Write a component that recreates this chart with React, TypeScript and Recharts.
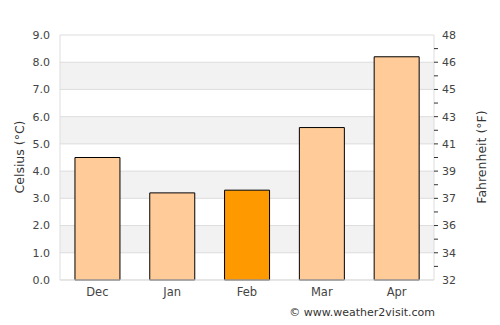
import React from 'react';
import { ComposedChart, Bar, Line, XAxis, YAxis, CartesianGrid, Cell } from 'recharts';

const months = ['Dec', 'Jan', 'Feb', 'Mar', 'Apr'];
const celsius = [4.5, 3.2, 3.3, 5.6, 8.2];
const highlighted = ['Feb'];
const leftTicks = [0, 1, 2, 3, 4, 5, 6, 7, 8, 9];
const rightTicks = [0, 0.5, 1, 1.5, 2, 2.5, 3, 3.5, 4, 4.5, 5, 5.5, 6, 6.5, 7, 7.5, 8, 8.5, 9];

const data = months.map((m, i) => ({ month: m, c: celsius[i] }));

const FONT = '"DejaVu Sans", sans-serif';
const TXT = '#444';

const RightTick = (props: any) => {
  const { x, y, payload } = props;
  const v = payload.value;
  const isInt = Math.abs(v - Math.round(v)) < 1e-6;
  const isEnd = v <= 0 || v >= 9;
  const f = Math.round((v * 9) / 5 + 32);
  return (
    <g>
      {!isEnd && <line x1={x - 8} x2={x - 4} y1={y} y2={y} stroke="#333" strokeWidth={1} />}
      {isInt && (
        <text x={x} y={y} dy="0.355em" textAnchor="start" fill={TXT} fontSize={11} fontFamily={FONT}>
          {f}
        </text>
      )}
    </g>
  );
};

export default function App() {
  return (
    <div style={{ position: 'absolute', left: 0, top: 0, width: 500, height: 325, background: '#fff' }}>
      <ComposedChart
        width={500}
        height={325}
        data={data}
        margin={{ top: 35, right: 0, bottom: 0, left: 0 }}
        barCategoryGap="20%"
      >
        <CartesianGrid
          vertical={false}
          stroke="#dddddd"
          horizontalFill={['#ffffff', '#f2f2f2']}
          fillOpacity={1}
          yAxisId="left"
        />
        <XAxis
          dataKey="month"
          height={45}
          axisLine={{ stroke: '#dddddd' }}
          tickLine={false}
          tick={{ fill: TXT, fontSize: 11.5, fontFamily: FONT }}
        />
        <YAxis
          yAxisId="left"
          width={60}
          domain={[0, 9]}
          ticks={leftTicks}
          interval={0}
          tickFormatter={(v: number) => v.toFixed(1)}
          axisLine={{ stroke: '#dddddd' }}
          tickLine={false}
          tickMargin={4}
          tick={{ fill: TXT, fontSize: 11, fontFamily: FONT }}
        />
        <YAxis
          yAxisId="right"
          orientation="right"
          width={66}
          type="number"
          domain={[0, 9]}
          ticks={rightTicks}
          interval={0}
          axisLine={{ stroke: '#dddddd' }}
          tickLine={false}
          tickSize={4}
          tickMargin={4}
          tick={(p: any) => <RightTick {...p} />}
        />
        <Bar dataKey="c" yAxisId="left" stroke="#000" strokeWidth={1} isAnimationActive={false}>
          {data.map((d, i) => (
            <Cell key={i} fill={highlighted.includes(d.month) ? '#ff9900' : '#ffcc99'} />
          ))}
        </Bar>
        <Line
          dataKey="c"
          yAxisId="right"
          stroke="none"
          dot={false}
          activeDot={false}
          legendType="none"
          isAnimationActive={false}
        />
      </ComposedChart>
      <div
        style={{
          position: 'absolute',
          left: 19,
          top: 157,
          transform: 'translate(-50%, -50%) rotate(-90deg)',
          whiteSpace: 'nowrap',
          fontFamily: FONT,
          fontSize: 12.5,
          color: '#333',
        }}
      >
        Celsius (°C)
      </div>
      <div
        style={{
          position: 'absolute',
          left: 481,
          top: 157,
          transform: 'translate(-50%, -50%) rotate(-90deg)',
          whiteSpace: 'nowrap',
          fontFamily: FONT,
          fontSize: 12.5,
          color: '#333',
        }}
      >
        Fahrenheit (°F)
      </div>
      <div
        style={{
          position: 'absolute',
          right: 65,
          top: 306,
          whiteSpace: 'nowrap',
          fontFamily: FONT,
          fontSize: 11,
          color: '#333',
        }}
      >
        © www.weather2visit.com
      </div>
    </div>
  );
}
